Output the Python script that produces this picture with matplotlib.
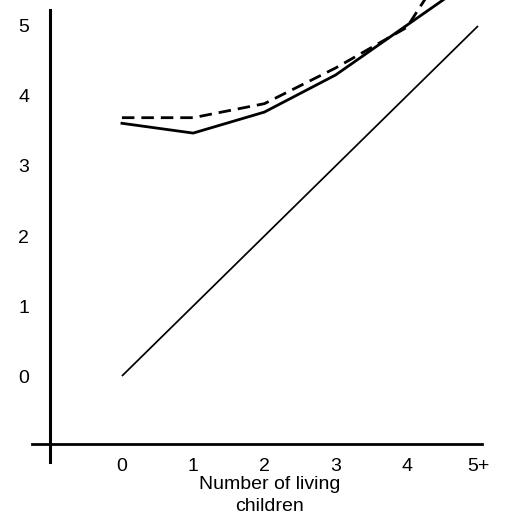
import matplotlib
matplotlib.use("Agg")
import matplotlib.pyplot as plt

plt.rcParams['font.family'] = ['Liberation Sans', 'DejaVu Sans']

# number of living children (last group is 5 or more)
children = [0, 1, 2, 3, 4, 5]
child_labels = ["0", "1", "2", "3", "4", "5+"]

# average ideal family size by number of living children
ideal_solid = [3.61, 3.47, 3.77, 4.30, 5.01, 5.72]
ideal_dashed = [3.69, 3.69, 3.89, 4.40, 4.98, 6.55]

# reference line: ideal equals actual
equal_x = [0, 5]
equal_y = [0, 5]

y_ticks = [0, 1, 2, 3, 4, 5]

W, H = 509, 528
fig = plt.figure(figsize=(W / 100, H / 100), dpi=100)
# axes box: left edge at the vertical axis, bottom at the horizontal axis
ax = fig.add_axes([50 / W, (H - 444) / H, (W - 50) / W, 444 / H])

ax.set_xlim(-1.01, 5.435)
ax.set_ylim(-0.971, 5.371)

ax.plot(equal_x, equal_y, color="black", lw=1.25, solid_capstyle="butt")
ax.plot(children, ideal_solid, color="black", lw=2.0)
ax.plot(children, ideal_dashed, color="black", lw=2.0, dashes=(4.5, 2.5))

# hand-drawn style axes that overshoot each other
ax.plot([-1.26, 5.06], [-0.971, -0.971], color="black", lw=2.0, clip_on=False)
ax.plot([-1.01, -1.01], [-1.23, 5.23], color="black", lw=2.2, clip_on=False)

for s in ax.spines.values():
    s.set_visible(False)

ax.set_xticks(children)
ax.set_xticklabels(child_labels)
ax.set_yticks(y_ticks)
ax.tick_params(axis="x", length=0, pad=10, labelsize=14)
ax.tick_params(axis="y", length=0, pad=15, labelsize=14)

ax.set_xlabel("Number of living\nchildren", fontsize=14, linespacing=1.35)
ax.xaxis.set_label_coords((270 - 50) / (W - 50), -0.072)

fig.savefig("out.png", dpi=100)
